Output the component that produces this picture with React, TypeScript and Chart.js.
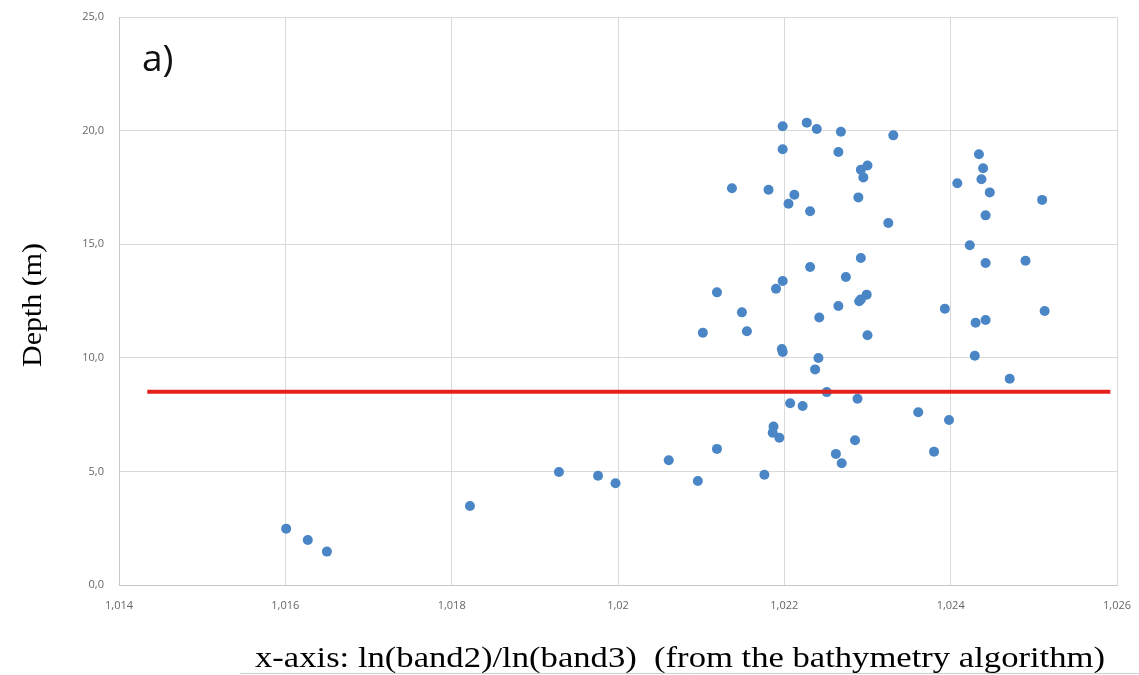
import React, { useEffect, useRef } from 'react';
import { Chart, registerables } from 'chart.js';

Chart.register(...registerables);

// ---- data ----
const ratioValues = [
  1.01601, 1.01627, 1.0165, 1.01822, 1.01929, 1.01976, 1.01997, 1.02061, 1.02096, 1.02119,
  1.02102, 1.02119, 1.02137, 1.02149, 1.02155, 1.02176, 1.02181, 1.02187, 1.02186, 1.0219,
  1.02194, 1.02198, 1.02198, 1.02198, 1.02197, 1.02198, 1.02205, 1.02207, 1.02212, 1.02222,
  1.02227, 1.02231, 1.02231, 1.02239, 1.02237, 1.02241, 1.02242, 1.02251, 1.02265, 1.02268,
  1.02265, 1.02262, 1.02269, 1.02274, 1.02285, 1.02288, 1.02289, 1.02292, 1.02292, 1.02295,
  1.023, 1.02299, 1.02292, 1.0229, 1.023, 1.02325, 1.02331, 1.02361, 1.0238, 1.02393,
  1.02398, 1.02408, 1.02423, 1.02429, 1.0243, 1.02434, 1.02439, 1.02437, 1.02447, 1.02442,
  1.02442, 1.02442, 1.02471, 1.0249, 1.0251, 1.02513,
];
const depthValues = [
  2.48, 1.98, 1.47, 3.48, 4.97, 4.81, 4.48, 5.49, 4.58, 5.99,
  11.1, 12.88, 17.46, 12.0, 11.17, 4.85, 17.4, 6.98, 6.7, 13.04,
  6.48, 13.38, 20.19, 19.18, 10.39, 10.26, 16.78, 8.0, 17.18, 7.88,
  20.35, 16.45, 14.0, 20.07, 9.49, 9.99, 11.77, 8.49, 19.06, 19.95,
  12.28, 5.77, 5.36, 13.56, 6.37, 8.2, 17.06, 14.39, 18.28, 17.94,
  18.46, 12.78, 12.57, 12.49, 10.99, 15.93, 19.79, 7.6, 5.87, 12.16,
  7.26, 17.68, 14.95, 10.09, 11.54, 18.96, 18.34, 17.86, 17.28, 16.27,
  14.17, 11.66, 9.08, 14.27, 16.95, 12.06,
];
const thresholdDepth = 8.51;
const thresholdRange = [1.01434, 1.02592];

const xTickValues = [1.014, 1.016, 1.018, 1.02, 1.022, 1.024, 1.026];
const xTickLabels = ['1,014', '1,016', '1,018', '1,02', '1,022', '1,024', '1,026'];
const yTickValues = [0, 5, 10, 15, 20, 25];
const yTickLabels = ['0,0', '5,0', '10,0', '15,0', '20,0', '25,0'];

const panelLabel = 'a)';
const yTitle = 'Depth (m)';
const xTitle = 'x-axis: ln(band2)/ln(band3)  (from the bathymetry algorithm)';

const textPlugin = {
  id: 'extraText',
  afterDraw(chart: any) {
    const ctx = chart.ctx as CanvasRenderingContext2D;
    ctx.save();
    ctx.fillStyle = '#111';
    ctx.font = '37px "Open Sans"';
    ctx.textBaseline = 'alphabetic';
    ctx.textAlign = 'left';
    ctx.fillText(panelLabel, 142, 71);

    ctx.font = '30px "Liberation Serif"';
    ctx.fillStyle = '#000';
    const wx = ctx.measureText(xTitle).width;
    const targetX = 850;
    ctx.save();
    ctx.translate(255, 667);
    ctx.scale(targetX / wx, 1);
    ctx.fillText(xTitle, 0, 0);
    ctx.restore();

    ctx.font = '28px "Liberation Serif"';
    const wy = ctx.measureText(yTitle).width;
    const targetY = 124;
    ctx.save();
    ctx.translate(41, 367);
    ctx.rotate(-Math.PI / 2);
    ctx.scale(targetY / wy, 1);
    ctx.fillText(yTitle, 0, 0);
    ctx.restore();

    ctx.strokeStyle = '#d0d0d0';
    ctx.lineWidth = 1;
    ctx.beginPath();
    ctx.moveTo(240, 673.5);
    ctx.lineTo(1139, 673.5);
    ctx.stroke();
    ctx.restore();
  },
};

const zeroPad = (s: any) => {
  s.paddingLeft = 0;
  s.paddingRight = 0;
  s.paddingTop = 0;
  s.paddingBottom = 0;
};

export default function App() {
  const ref = useRef<HTMLCanvasElement>(null);
  useEffect(() => {
    document.body.style.margin = '0';
    const chart = new Chart(ref.current!, {
      type: 'scatter',
      data: {
        datasets: [
          {
            type: 'line',
            data: thresholdRange.map((x) => ({ x, y: thresholdDepth })),
            borderColor: '#e4201c',
            borderWidth: 4,
            pointRadius: 0,
            order: 0,
          } as any,
          {
            data: ratioValues.map((x, i) => ({ x, y: depthValues[i] })),
            backgroundColor: '#4a86c6',
            borderColor: '#4a86c6',
            borderWidth: 0,
            pointRadius: 5,
            order: 1,
          },
        ],
      },
      options: {
        animation: false,
        responsive: false,
        devicePixelRatio: 1,
        layout: { padding: { left: 0, top: 17, right: 22, bottom: 0 } },
        plugins: { legend: { display: false }, tooltip: { enabled: false } },
        scales: {
          x: {
            type: 'linear',
            min: 1.014,
            max: 1.026,
            afterBuildTicks: (s: any) => {
              s.ticks = xTickValues.map((v) => ({ value: v }));
            },
            afterFit: (s: any) => {
              s.height = 90;
              zeroPad(s);
            },
            grid: { color: '#d9d9d9', drawTicks: false },
            border: { color: '#c8c8c8' },
            ticks: {
              padding: 14,
              color: '#666',
              font: { family: '"Open Sans"', size: 11 },
              callback: (_v: any, i: number) => xTickLabels[i],
            },
          },
          y: {
            type: 'linear',
            min: 0,
            max: 25,
            afterBuildTicks: (s: any) => {
              s.ticks = yTickValues.map((v) => ({ value: v }));
            },
            afterFit: (s: any) => {
              s.width = 119;
              zeroPad(s);
            },
            grid: { color: '#d9d9d9', drawTicks: false },
            border: { color: '#c8c8c8' },
            ticks: {
              padding: 15,
              color: '#666',
              font: { family: '"Open Sans"', size: 11 },
              callback: (_v: any, i: number) => yTickLabels[i],
            },
          },
        },
      },
      plugins: [textPlugin],
    });
    return () => chart.destroy();
  }, []);
  return (
    <div style={{ width: 1139, height: 675, background: '#fff' }}>
      <canvas ref={ref} width={1139} height={675} />
    </div>
  );
}
